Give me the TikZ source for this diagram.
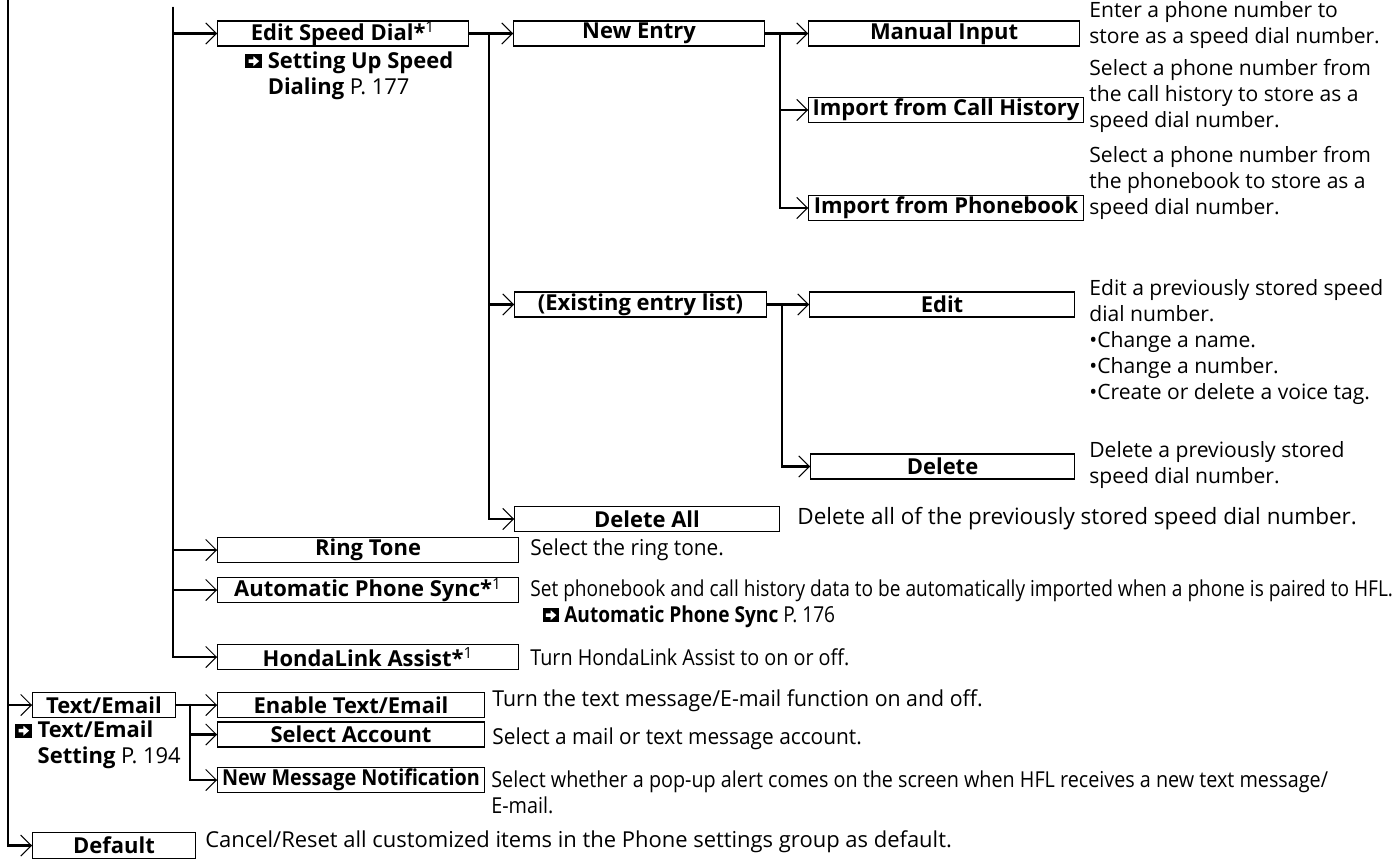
\documentclass[tikz,border=0pt]{standalone}
\usepackage{fontspec}
\setmainfont{Open Sans}
\usetikzlibrary{arrows.meta}
\newcommand{\seeico}{\tikz[baseline=0pt,x=1pt,y=1pt]{\fill[black] (0,0) rectangle (9.5,8);
  \fill[white] (1.8,3) -- (4.6,3) -- (4.6,1.2) -- (7.8,4) -- (4.6,6.8) -- (4.6,5) -- (1.8,5) -- cycle;}}
\begin{document}
\begin{tikzpicture}[x=0.02cm, y=-0.02cm, line cap=round, font=\fontsize{12}{14.8}\selectfont,
  >={Straight Barb[length=6pt,width=12pt,line width=0.6pt]}]
	\tikzset{item/.style={draw, line width=0.6pt, anchor=west, inner sep=0pt, minimum height=0.5cm,
	    minimum width=#1*0.02cm, font=\fontsize{12.5}{15}\selectfont\bfseries},
	  note/.style={anchor=west, align=left, inner sep=0pt},
	  thin/.style={note, font=\fontsize{12.5}{14.8}\selectfont\addfontfeatures{FakeStretch=#1}},
	  tie/.style={line width=1.2pt}}
	\useasboundingbox (0,0) rectangle (1395,858);
	\node[item=251] (speed) at (217,33.5) {Edit Speed Dial*\textsuperscript{\mdseries 1}};
	\node[item=251] (entry) at (513,33.5) {New Entry};
	\node[item=271] (manual) at (808,33.5) {Manual Input};
	\node[item=275] (history) at (808,110) {Import from Call History};
	\node[item=275] (phonebook) at (808,208) {Import from Phonebook};
	\node[item=252] (existing) at (514,304.5) {(Existing entry list)};
	\node[item=265] (edit) at (809,304.5) {Edit};
	\node[item=264] (delete) at (810,466.5) {Delete};
	\node[item=265] (deleteall) at (514,519) {Delete All};
	\node[item=301] (ring) at (217,550) {Ring Tone};
	\node[item=301] (sync) at (217,590) {Automatic Phone Sync*\textsuperscript{\mdseries 1}};
	\node[item=301] (assist) at (217,657) {HondaLink Assist*\textsuperscript{\mdseries 1}};
	\node[item=143] (text) at (32,705) {Text/Email};
	\node[item=267] (enable) at (217,705) {Enable Text/Email};
	\node[item=267] (account) at (217,734.5) {Select Account};
	\node[item=267] (notify) at (217,780) {\addfontfeatures{FakeStretch=0.9}New Message Notification};
	\node[item=163, minimum height=0.52cm, anchor=north west] (default) at (32,832) {Default};
	\node[note, font=\fontsize{12.5}{14.8}\selectfont\bfseries] (speedref) at (245,75.5) {\seeico\ Setting Up Speed\\\hphantom{\seeico\ }Dialing {\mdseries P. 177}};
	\node[note, font=\fontsize{12.5}{14.8}\selectfont\bfseries] (textref) at (15,745) {\seeico\ Text/Email\\\hphantom{\seeico\ }Setting {\mdseries P. 194}};
	\node[note] (manualtxt) at (1089,25) {Enter a phone number to\\store as a speed dial number.};
	\node[note] (historytxt) at (1089,96) {Select a phone number from\\the call history to store as a\\speed dial number.};
	\node[note] (phonetxt) at (1089,183) {Select a phone number from\\the phonebook to store as a\\speed dial number.};
	\node[note] (edittxt) at (1089,342) {Edit a previously stored speed\\dial number.\\•Change a name.\\•Change a number.\\•Create or delete a voice tag.};
	\node[note] (deletetxt) at (1089,465) {Delete a previously stored\\speed dial number.};
	\node[note, font=\fontsize{12.8}{14.8}\selectfont] (deletealltxt) at (797,519) {Delete all of the previously stored speed dial number.};
	\node[thin=0.95] (ringtxt) at (530,550) {Select the ring tone.};
	\node[thin=0.87] (synctxt) at (530,603.5) {Set phonebook and call history data to be automatically imported when a phone is paired to HFL.\\
	  \hspace*{7pt}\seeico\ \textbf{Automatic Phone Sync} P. 176};
	\node[thin=0.9] (assisttxt) at (530,657) {Turn HondaLink Assist to on or off.};
	\node[thin=0.97] (enabletxt) at (492,701) {Turn the text message/E-mail function on and off.};
	\node[thin=0.95] (accounttxt) at (492,739) {Select a mail or text message account.};
	\node[thin=0.9] (notifytxt) at (491,792) {Select whether a pop-up alert comes on the screen when HFL receives a new text message/\\E-mail.};
	\node[thin=1] (defaulttxt) at (205,842) {Cancel/Reset all customized items in the Phone settings group as default.};
	\coordinate (top0) at (8,0);
	\coordinate (top1) at (173,8);
	\coordinate (fork2) at (489,33.5);
	\coordinate (fork3) at (780,33.5);
	\coordinate (fork4) at (782,304.5);
	\coordinate (fork5) at (190,705);
	\foreach \n in {text,default} \draw[tie,->] (top0) |- (\n.west);
	\foreach \n in {speed,ring,sync,assist} \draw[tie,->] (top1) |- (\n.west);
	\draw[tie,->] (speed.east) -- (entry.west);
	\foreach \n in {existing,deleteall} \draw[tie,->] (fork2) |- (\n.west);
	\draw[tie,->] (entry.east) -- (manual.west);
	\foreach \n in {history,phonebook} \draw[tie,->] (fork3) |- (\n.west);
	\draw[tie,->] (existing.east) -- (edit.west);
	\draw[tie,->] (fork4) |- (delete.west);
	\draw[tie,->] (text.east) -- (enable.west);
	\foreach \n in {account,notify} \draw[tie,->] (fork5) |- (\n.west);
\end{tikzpicture}
\end{document}
